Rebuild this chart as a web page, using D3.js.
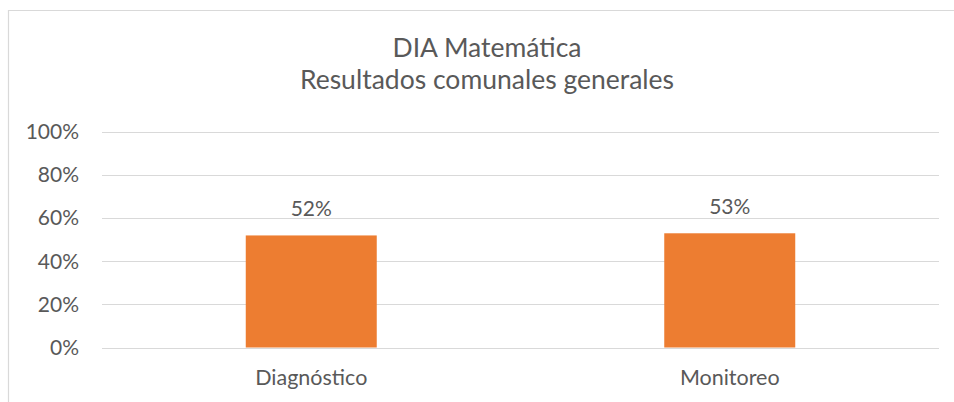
<!DOCTYPE html>
<html>
<head>
<meta charset="utf-8">
<script src="https://cdn.jsdelivr.net/npm/d3@7"></script>
<style>
  html, body { margin: 0; padding: 0; background: #fff; }
  svg { display: block; }
  text { font-family: Lato, "Open Sans", sans-serif; fill: #595959; }
</style>
</head>
<body>
<svg id="chart" width="954" height="402"></svg>
<script>
const categories = ["Diagnóstico", "Monitoreo"];
const values = [0.52, 0.53];
const tickValues = [0, 0.2, 0.4, 0.6, 0.8, 1.0];
const titleLines = ["DIA Matemática", "Resultados comunales generales"];

const W = 954, H = 402;
const FONT = "Lato, 'Open Sans', sans-serif";
const svg = d3.select("#chart");

// chart frame
svg.append("path")
  .attr("d", `M8.5,${H} V10.5 H${W}`)
  .attr("fill", "none")
  .attr("stroke", "#D9D9D9")
  .attr("stroke-width", 1.2);

const x = d3.scaleBand().domain(categories).range([102, 939]).paddingInner(0.687).paddingOuter(0.3435);
const y = d3.scaleLinear().domain([0, 1]).range([347.5, 132]);

// gridlines
svg.append("g").selectAll("line").data(tickValues).join("line")
  .attr("x1", 102).attr("x2", 939)
  .attr("y1", d => Math.round(y(d)) + 0.5).attr("y2", d => Math.round(y(d)) + 0.5)
  .attr("stroke", "#D9D9D9").attr("stroke-width", 1);

// y axis labels
const yAxis = d3.axisLeft(y).tickValues(tickValues).tickFormat(d3.format(".0%")).tickSize(0).tickPadding(0);
const gy = svg.append("g").attr("transform", "translate(79,0)").call(yAxis);
gy.select(".domain").remove();
gy.selectAll("text").attr("font-size", 21).attr("fill", "#595959").attr("font-family", FONT);

// bars
svg.append("g").selectAll("rect").data(values).join("rect")
  .attr("x", (d, i) => x(categories[i]))
  .attr("width", x.bandwidth())
  .attr("y", d => y(d))
  .attr("height", d => y(0) - y(d))
  .attr("fill", "#ED7D31");

// data labels
svg.append("g").selectAll("text").data(values).join("text")
  .attr("x", (d, i) => x(categories[i]) + x.bandwidth() / 2)
  .attr("y", d => y(d) - 19)
  .attr("text-anchor", "middle")
  .attr("font-size", 21)
  .text(d => d3.format(".0%")(d));

// x axis labels
const xAxis = d3.axisBottom(x).tickSize(0).tickPadding(0);
const gx = svg.append("g").attr("transform", "translate(0,385)").call(xAxis);
gx.select(".domain").remove();
gx.selectAll("text").attr("font-size", 21.5).attr("fill", "#595959").attr("font-family", FONT).attr("dy", "0");

// title
svg.append("g").selectAll("text").data(titleLines).join("text")
  .attr("x", 487)
  .attr("y", (d, i) => 56.5 + i * 32)
  .attr("text-anchor", "middle")
  .attr("font-size", 26.5)
  .text(d => d);
</script>
</body>
</html>
